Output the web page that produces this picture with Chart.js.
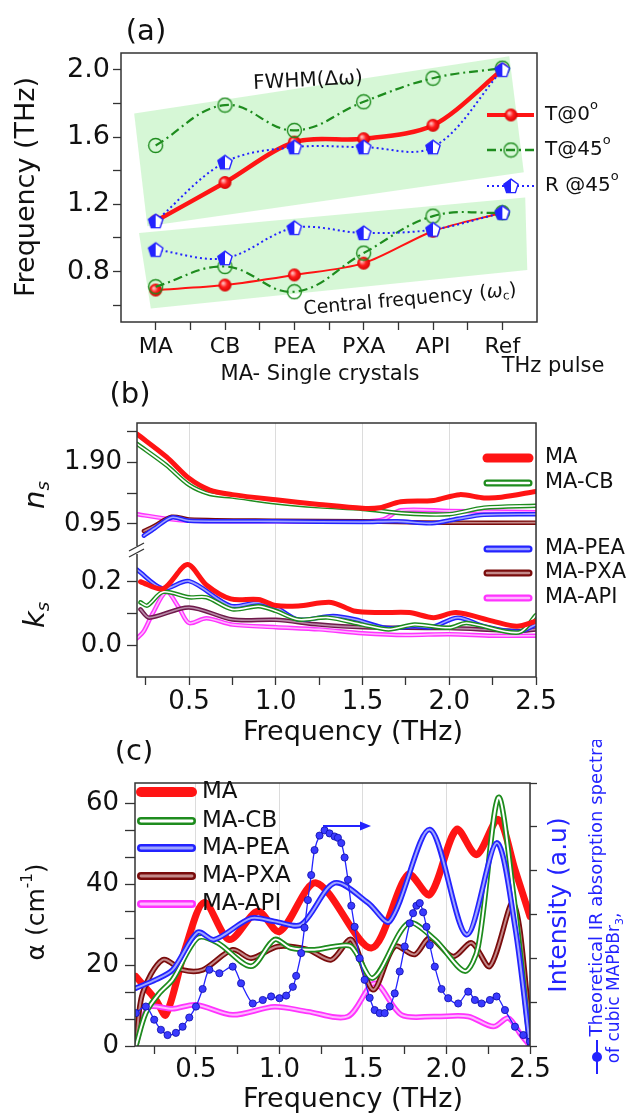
<!DOCTYPE html>
<html>
<head>
<title></title>
<script src="https://cdn.jsdelivr.net/npm/chart.js"></script>
<style>
  body { margin: 0; background: #fff; }
  .page { position: relative; width: 635px; height: 1115px; overflow: hidden; }
  .page canvas { position: absolute; left: 0; }
</style>
</head>
<body>
<div class="page">
  <canvas id="chartA" width="635" height="390" style="top:0px"></canvas>
  <canvas id="chartB" width="635" height="370" style="top:380px"></canvas>
  <canvas id="chartC" width="635" height="375" style="top:740px"></canvas>
</div>
<script>
// ---------- (a) FWHM / central frequency per sample ----------
const samples = ['MA', 'CB', 'PEA', 'PXA', 'API', 'Ref'];
const fwhmT0  = [1.10, 1.33, 1.57, 1.59, 1.67, 2.00];
const fwhmT45 = [1.55, 1.79, 1.64, 1.81, 1.95, 2.01];
const fwhmR45 = [1.10, 1.45, 1.54, 1.54, 1.54, 2.00];
const centT0  = [0.69, 0.72, 0.78, 0.85, 1.04, 1.15];
const centT45 = [0.71, 0.83, 0.68, 0.91, 1.13, 1.15];
const centR45 = [0.93, 0.88, 1.06, 1.03, 1.05, 1.15];
// green shaded bands, corners as [sample index, THz]
const bandFwhm = [[-0.31, 1.74], [5.10, 2.08], [5.31, 1.39], [-0.12, 1.07]];
const bandCent = [[-0.24, 1.03], [5.33, 1.24], [5.36, 0.81], [-0.07, 0.58]];
const aXTicks = [0, 0.5, 1, 1.5, 2, 2.5, 3, 3.5, 4, 4.5, 5];
const aYTicks = [0.6, 0.8, 1.0, 1.2, 1.4, 1.6, 1.8, 2.0];
const aYLabels = ['', '0.8', '', '1.2', '', '1.6', '', '2.0'];

// ---------- (b) n_s and k_s ----------
const nMaF = [0.20, 0.37, 0.50, 0.62, 0.75, 1.00, 1.25, 1.50, 1.60, 1.72, 1.91, 2.06, 2.20, 2.30, 2.50];
const nMa  = [2.33, 1.98, 1.65, 1.47, 1.40, 1.32, 1.25, 1.19, 1.20, 1.29, 1.31, 1.40, 1.35, 1.36, 1.45];
const nCbF = [0.20, 0.37, 0.50, 0.62, 0.75, 1.00, 1.25, 1.50, 1.75, 2.00, 2.20, 2.50];
const nCb  = [2.18, 1.85, 1.55, 1.41, 1.37, 1.28, 1.22, 1.18, 1.11, 1.10, 1.20, 1.23];
const nPeaF = [0.24, 0.30, 0.40, 0.50, 1.00, 1.50, 1.70, 1.90, 2.05, 2.20, 2.50];
const nPea  = [0.77, 0.88, 1.05, 1.00, 0.99, 0.98, 0.99, 0.96, 1.03, 1.09, 1.10];
const nPxaF = [0.24, 0.30, 0.40, 0.50, 1.00, 1.50, 1.70, 2.00, 2.50];
const nPxa  = [0.84, 0.92, 1.06, 1.02, 1.00, 0.99, 0.98, 0.97, 0.97];
const nApiF = [0.20, 0.40, 0.50, 1.00, 1.50, 1.62, 1.72, 2.00, 2.50];
const nApi  = [1.10, 1.02, 1.00, 0.99, 0.99, 1.02, 1.16, 1.15, 1.13];

const kMaF = [0.22, 0.35, 0.49, 0.60, 0.74, 0.90, 1.00, 1.13, 1.32, 1.45, 1.60, 1.77, 1.91, 2.04, 2.25, 2.39, 2.50];
const kMa  = [0.200, 0.178, 0.254, 0.190, 0.146, 0.144, 0.125, 0.124, 0.135, 0.108, 0.103, 0.103, 0.087, 0.103, 0.076, 0.060, 0.076];
const kCbF = [0.22, 0.26, 0.35, 0.50, 0.60, 0.75, 0.90, 1.00, 1.13, 1.30, 1.50, 1.65, 1.80, 2.00, 2.10, 2.40, 2.50];
const kCb  = [0.135, 0.125, 0.168, 0.151, 0.151, 0.113, 0.123, 0.108, 0.081, 0.087, 0.065, 0.050, 0.065, 0.055, 0.070, 0.040, 0.095];
const kPeaF = [0.20, 0.35, 0.50, 0.74, 0.90, 1.00, 1.13, 1.33, 1.46, 1.64, 1.80, 1.90, 2.05, 2.20, 2.40, 2.50];
const kPea  = [0.238, 0.178, 0.202, 0.124, 0.135, 0.120, 0.081, 0.092, 0.081, 0.054, 0.060, 0.057, 0.087, 0.060, 0.043, 0.065];
const kPxaF = [0.22, 0.27, 0.50, 0.75, 1.00, 1.25, 1.50, 2.00, 2.40, 2.50];
const kPxa  = [0.113, 0.087, 0.119, 0.081, 0.080, 0.065, 0.057, 0.054, 0.045, 0.050];
const kApiF = [0.20, 0.24, 0.29, 0.37, 0.44, 0.50, 0.60, 0.75, 1.00, 1.25, 1.50, 1.75, 2.00, 2.25, 2.50];
const kApi  = [0.022, 0.045, 0.100, 0.168, 0.120, 0.070, 0.085, 0.065, 0.057, 0.050, 0.038, 0.032, 0.035, 0.030, 0.030];

const fTicks  = [0.25, 0.5, 0.75, 1.0, 1.25, 1.5, 1.75, 2.0, 2.25, 2.5];
const fLabels = ['', '0.5', '', '1.0', '', '1.5', '', '2.0', '', '2.5'];
const nTicks  = [0.95, 1.425, 1.90, 2.375];
const nLabels = ['0.95', '', '1.90', ''];
const kTicks  = [0.0, 0.1, 0.2];
const kLabels = ['0.0', '', '0.2'];

// ---------- (c) absorption coefficient ----------
const aMaF = [0.14, 0.26, 0.32, 0.44, 0.55, 0.70, 0.87, 1.00, 1.22, 1.55, 1.77, 1.90, 2.06, 2.18, 2.31, 2.41, 2.50];
const aMa  = [17.2, 11.4, 7.7, 24.6, 35.5, 26.3, 33.3, 28.3, 40.3, 24.2, 42.4, 37.4, 53.5, 47.3, 56.0, 43.6, 32.0];
const aCbF = [0.14, 0.20, 0.28, 0.36, 0.51, 0.63, 0.83, 0.97, 1.07, 1.21, 1.33, 1.43, 1.56, 1.77, 1.93, 2.11, 2.19, 2.31, 2.40, 2.50];
const aCb  = [0, 8.2, 13.0, 16.4, 26.7, 25.5, 19.7, 26.3, 24.2, 23.8, 24.6, 24.6, 16.8, 30.4, 26.3, 18.5, 24.6, 61.4, 37.8, 0];
const aPeaF = [0.14, 0.26, 0.36, 0.51, 0.61, 0.83, 0.97, 1.13, 1.33, 1.53, 1.66, 1.90, 2.12, 2.30, 2.41, 2.50];
const aPea  = [14.3, 16.4, 18.8, 28.1, 26.3, 31.6, 30.8, 30.0, 40.3, 35.4, 30.8, 53.5, 27.5, 50.2, 29.6, 0];
const aPxaF = [0.14, 0.18, 0.30, 0.42, 0.54, 0.72, 0.83, 0.99, 1.17, 1.31, 1.43, 1.56, 1.69, 1.81, 1.90, 2.04, 2.15, 2.26, 2.40, 2.50];
const aPxa  = [0, 13.0, 21.3, 18.8, 18.8, 23.8, 21.7, 24.6, 23.8, 21.3, 26.3, 13.9, 24.6, 22.6, 26.7, 22.1, 25.5, 19.7, 35.4, 5.7];
const aApiF = [0.14, 0.18, 0.22, 0.36, 0.50, 0.72, 0.97, 1.17, 1.41, 1.57, 1.73, 1.93, 2.13, 2.28, 2.37, 2.44, 2.50];
const aApi  = [0, 6.4, 9.7, 9.2, 10.2, 7.7, 9.7, 8.5, 7.3, 15.5, 7.7, 7.3, 7.3, 4.8, 6.9, 3.1, 0];
// theoretical IR absorption (right axis, a.u.)
const theoF = [0.14, 0.20, 0.25, 0.29, 0.33, 0.38, 0.42, 0.46, 0.50, 0.54, 0.58, 0.64, 0.72, 0.77, 0.84, 0.90, 0.95, 1.00, 1.04, 1.08,
               1.10, 1.13, 1.15, 1.17, 1.19, 1.21, 1.24, 1.27, 1.30, 1.33, 1.35, 1.37, 1.39, 1.41, 1.43, 1.45, 1.48, 1.51, 1.54, 1.57,
               1.60, 1.63, 1.66, 1.69, 1.72, 1.75, 1.78, 1.80, 1.82, 1.84, 1.86, 1.88, 1.90, 1.93, 1.97, 2.01, 2.07, 2.13, 2.17, 2.21,
               2.26, 2.30, 2.35, 2.41, 2.46, 2.50];
const theoI = [0.75, 0.90, 0.60, 0.37, 0.25, 0.30, 0.44, 0.65, 0.90, 1.30, 1.74, 1.66, 1.81, 1.43, 0.97, 1.05, 1.13, 1.09, 1.15, 1.35,
               1.60, 2.12, 2.70, 3.33, 3.90, 4.47, 4.80, 4.92, 4.85, 4.78, 4.75, 4.63, 4.30, 3.79, 3.20, 2.72, 2.00, 1.51, 1.10, 0.82,
               0.75, 0.75, 0.90, 1.20, 1.70, 2.27, 2.80, 3.03, 3.20, 3.26, 3.05, 2.72, 2.30, 1.81, 1.30, 1.09, 0.97, 1.24, 1.05, 0.97,
               1.05, 1.13, 0.82, 0.44, 0.25, 0.10];
const alphaTicks  = [0, 6.67, 13.33, 20, 26.67, 33.33, 40, 46.67, 53.33, 60];
const alphaLabels = ['0', '', '', '20', '', '', '40', '', '', '60'];
const intTicks = [0, 1, 2, 3, 4, 5, 6];

// ---------- styling ----------
const F = "'DejaVu Sans', sans-serif";
const INK = '#111';
const AXIS = '#333';
const GRID = '#dcdcdc';
const RED = '#ff1414', GREEN = '#1e8c1e', BLUE = '#2323ff';
const BROWN = '#7a0c0c', PINK = '#ff33ff';
const BAND = 'rgba(200, 244, 200, 0.75)';
Chart.defaults.font.family = F;
Chart.defaults.color = INK;

function xy(fs, vs) { return fs.map((f, i) => ({x: f, y: vs[i]})); }
function byIndex(vs) { return vs.map((v, i) => ({x: i, y: v})); }
function poly(c) { const p = c.map(q => ({x: q[0], y: q[1]})); p.push(p[0]); return p; }

function mark(size, draw) {
  const c = document.createElement('canvas');
  c.width = c.height = size;
  draw(c.getContext('2d'), size / 2);
  return c;
}
const dotRed = mark(15, (g, m) => {
  const gr = g.createRadialGradient(m - 2, m - 2, 0.5, m, m, 7);
  gr.addColorStop(0, '#ffc0c0'); gr.addColorStop(0.45, '#ff1c1c'); gr.addColorStop(1, '#d00000');
  g.fillStyle = gr; g.beginPath(); g.arc(m, m, 6.5, 0, 7); g.fill();
});
const ringGreen = mark(17, (g, m) => {
  g.strokeStyle = GREEN; g.lineWidth = 1.4; g.beginPath(); g.arc(m, m, 7, 0, 7); g.stroke();
});
const pentBlue = mark(18, (g, m) => {
  g.beginPath();
  for (let i = 0; i < 5; i++) {
    const a = -Math.PI / 2 + i * 2 * Math.PI / 5;
    g.lineTo(m + 7.5 * Math.cos(a), m + 0.6 + 7.5 * Math.sin(a));
  }
  g.closePath();
  g.fillStyle = '#fff'; g.fill();
  g.save(); g.clip(); g.fillStyle = BLUE; g.fillRect(0, 0, m, 18); g.restore();
  g.strokeStyle = BLUE; g.lineWidth = 1.4; g.stroke();
});

// thick "tube" line: outer stroke plus a lighter core drawn on top
function tube(data, outer, inner, w, axis, order) {
  const base = {data, yAxisID: axis, pointRadius: 0, tension: 0.3,
                borderCapStyle: 'round', borderJoinStyle: 'round', fill: false};
  const list = [Object.assign({}, base, {borderColor: outer, borderWidth: w, order: order + 0.5})];
  if (inner) list.push(Object.assign({}, base, {borderColor: inner, borderWidth: w * 0.36, order: order}));
  return list;
}

// text with optional sub/superscripts, centred at (x, y)
function rich(ctx, parts, x, y, rot, color) {
  ctx.save();
  ctx.translate(x, y);
  ctx.rotate(rot || 0);
  ctx.textBaseline = 'middle';
  ctx.textAlign = 'left';
  let w = 0;
  for (const p of parts) {
    ctx.font = (p.it ? 'italic ' : '') + p.s + 'px ' + F;
    p.w = ctx.measureText(p.t).width; w += p.w;
  }
  let cx = -w / 2;
  for (const p of parts) {
    ctx.font = (p.it ? 'italic ' : '') + p.s + 'px ' + F;
    ctx.fillStyle = color || INK;
    ctx.fillText(p.t, cx, p.dy || 0);
    cx += p.w;
  }
  ctx.restore();
}
function leftText(ctx, parts, x, y) {
  ctx.save();
  ctx.textBaseline = 'middle';
  let cx = x;
  for (const p of parts) {
    ctx.font = p.s + 'px ' + F;
    ctx.fillStyle = INK;
    ctx.fillText(p.t, cx, y + (p.dy || 0));
    cx += ctx.measureText(p.t).width;
  }
  ctx.restore();
}
function legendTube(ctx, x1, x2, y, outer, inner, w) {
  ctx.save();
  ctx.lineCap = 'round';
  ctx.strokeStyle = outer; ctx.lineWidth = w;
  ctx.beginPath(); ctx.moveTo(x1, y); ctx.lineTo(x2, y); ctx.stroke();
  if (inner) {
    ctx.strokeStyle = inner; ctx.lineWidth = w * 0.36;
    ctx.beginPath(); ctx.moveTo(x1, y); ctx.lineTo(x2, y); ctx.stroke();
  }
  ctx.restore();
}

const frame = {
  id: 'frame',
  afterDatasetsDraw(chart) {
    const a = chart.chartArea, c = chart.ctx;
    c.save();
    c.strokeStyle = AXIS; c.lineWidth = 1.5;
    c.strokeRect(a.left, a.top, a.right - a.left, a.bottom - a.top);
    c.restore();
  }
};

function tickFont(size) { return {family: F, size: size, lineHeight: 1}; }
const noBorder = {display: false};
const baseOpts = {responsive: false, animation: false, events: [],
                  plugins: {legend: {display: false}, tooltip: {enabled: false}}};

// ================= chart (a) =================
new Chart(document.getElementById('chartA'), {
  type: 'line',
  data: {
    datasets: [
      {data: byIndex(fwhmR45), borderColor: BLUE, borderWidth: 2, borderDash: [2, 3], pointStyle: pentBlue, pointRadius: 7, tension: 0.35, fill: false, order: 0},
      {data: byIndex(centR45), borderColor: BLUE, borderWidth: 2, borderDash: [2, 3], pointStyle: pentBlue, pointRadius: 7, tension: 0.35, fill: false, order: 0},
      {data: byIndex(fwhmT45), borderColor: GREEN, borderWidth: 2.2, borderDash: [9, 4, 2, 4], pointStyle: ringGreen, pointRadius: 7, tension: 0.4, fill: false, order: 1},
      {data: byIndex(centT45), borderColor: GREEN, borderWidth: 2.2, borderDash: [9, 4, 2, 4], pointStyle: ringGreen, pointRadius: 7, tension: 0.4, fill: false, order: 1},
      {data: byIndex(fwhmT0), borderColor: RED, borderWidth: 4.5, pointStyle: dotRed, pointRadius: 7, tension: 0.3, fill: false, order: 2},
      {data: byIndex(centT0), borderColor: RED, borderWidth: 2, pointStyle: dotRed, pointRadius: 7, tension: 0.3, fill: false, order: 2},
      {data: poly(bandFwhm), fill: 'shape', backgroundColor: BAND, borderColor: 'rgba(0,0,0,0)', borderWidth: 0, pointRadius: 0, tension: 0, order: 20},
      {data: poly(bandCent), fill: 'shape', backgroundColor: BAND, borderColor: 'rgba(0,0,0,0)', borderWidth: 0, pointRadius: 0, tension: 0, order: 20}
    ]
  },
  options: Object.assign({}, baseOpts, {
    layout: {padding: {top: 53, right: 98, left: 0, bottom: 0}},
    scales: {
      x: {
        type: 'linear', min: -0.5, max: 5.5,
        afterFit: s => { s.height = 68; },
        afterBuildTicks: s => { s.ticks = aXTicks.map(v => ({value: v})); },
        ticks: {callback: (v, i) => Number.isInteger(aXTicks[i]) ? samples[aXTicks[i]] : '',
                autoSkip: false, maxRotation: 0, font: tickFont(22), padding: 6},
        grid: {drawOnChartArea: false, tickLength: 8, tickColor: AXIS, tickWidth: 1.3},
        border: noBorder
      },
      y: {
        type: 'linear', min: 0.5, max: 2.1,
        afterFit: s => { s.width = 121; },
        afterBuildTicks: s => { s.ticks = aYTicks.map(v => ({value: v})); },
        ticks: {callback: (v, i) => aYLabels[i], autoSkip: false, font: tickFont(27), padding: 3},
        grid: {drawOnChartArea: false, tickLength: 8, tickColor: AXIS, tickWidth: 1.3},
        border: noBorder
      }
    }
  }),
  plugins: [frame, {
    id: 'extrasA',
    afterDraw(chart) {
      const ctx = chart.ctx;
      rich(ctx, [{t: '(a)', s: 29}], 146, 32);
      rich(ctx, [{t: 'Frequency (THz)', s: 27}], 27, 187, -Math.PI / 2);
      rich(ctx, [{t: 'MA- Single crystals', s: 21}], 320, 375);
      rich(ctx, [{t: 'THz pulse', s: 21}], 553, 367);
      rich(ctx, [{t: 'FWHM(Δω)', s: 20}], 308, 81, -0.05);
      rich(ctx, [{t: 'Central frequency (', s: 19}, {t: 'ω', s: 19, it: true}, {t: 'c', s: 12, dy: 5}, {t: ')', s: 19}], 410, 300, -0.09);
      const rows = [
        [115, RED, 4, [], dotRed, 'T@0'],
        [150, GREEN, 2.5, [9, 4, 2, 4], ringGreen, 'T@45'],
        [186, BLUE, 2.2, [2, 3], pentBlue, 'R @45']
      ];
      for (const r of rows) {
        ctx.save();
        ctx.strokeStyle = r[1]; ctx.lineWidth = r[2]; ctx.setLineDash(r[3]);
        ctx.beginPath(); ctx.moveTo(487, r[0]); ctx.lineTo(534, r[0]); ctx.stroke();
        ctx.restore();
        ctx.drawImage(r[4], 511 - r[4].width / 2, r[0] - r[4].height / 2);
        leftText(ctx, [{t: r[5], s: 20}, {t: 'o', s: 13, dy: -9}], 545, r[0]);
      }
    }
  }]
});

// ================= chart (b) =================
new Chart(document.getElementById('chartB'), {
  type: 'line',
  data: {
    datasets: [
      ...tube(xy(nMaF, nMa), RED, null, 5, 'yn', 0),
      ...tube(xy(nCbF, nCb), GREEN, '#ffffff', 4.5, 'yn', 2),
      ...tube(xy(nPeaF, nPea), BLUE, '#9ea4ff', 4.5, 'yn', 4),
      ...tube(xy(nPxaF, nPxa), BROWN, '#c48a8a', 4.5, 'yn', 6),
      ...tube(xy(nApiF, nApi), PINK, '#ffb8ff', 4.5, 'yn', 8),
      ...tube(xy(kMaF, kMa), RED, null, 5, 'yk', 0),
      ...tube(xy(kCbF, kCb), GREEN, '#ffffff', 4.5, 'yk', 2),
      ...tube(xy(kPeaF, kPea), BLUE, '#9ea4ff', 4.5, 'yk', 4),
      ...tube(xy(kPxaF, kPxa), '#6e1a4a', '#b88aa8', 4.5, 'yk', 6),
      ...tube(xy(kApiF, kApi), PINK, '#ffb8ff', 4.5, 'yk', 8)
    ]
  },
  options: Object.assign({}, baseOpts, {
    layout: {padding: {top: 43, right: 99, left: 0, bottom: 0}},
    scales: {
      x: {
        type: 'linear', min: 0.2, max: 2.5,
        afterFit: s => { s.height = 73; },
        afterBuildTicks: s => { s.ticks = fTicks.map(v => ({value: v})); },
        ticks: {callback: (v, i) => fLabels[i], autoSkip: false, maxRotation: 0, font: tickFont(26), padding: 4},
        grid: {color: c => fLabels[c.index] ? GRID : 'rgba(0,0,0,0)', tickColor: AXIS, tickLength: 8, tickWidth: 1.3},
        border: noBorder
      },
      yk: {
        type: 'linear', min: -0.1, max: 0.3, position: 'left', stack: 'b', stackWeight: 1,
        afterFit: s => { s.width = 137; },
        afterBuildTicks: s => { s.ticks = kTicks.map(v => ({value: v})); },
        ticks: {callback: (v, i) => kLabels[i], autoSkip: false, font: tickFont(26), padding: 5},
        grid: {drawOnChartArea: false, tickLength: 10, tickColor: AXIS, tickWidth: 1.3},
        border: noBorder
      },
      yn: {
        type: 'linear', min: 0.55, max: 2.5, position: 'left', stack: 'b', stackWeight: 1,
        afterFit: s => { s.width = 137; },
        afterBuildTicks: s => { s.ticks = nTicks.map(v => ({value: v})); },
        ticks: {callback: (v, i) => nLabels[i], autoSkip: false, font: tickFont(26), padding: 5},
        grid: {drawOnChartArea: false, tickLength: 10, tickColor: AXIS, tickWidth: 1.3},
        border: noBorder
      }
    }
  }),
  plugins: [frame, {
    id: 'extrasB',
    afterDraw(chart) {
      const ctx = chart.ctx;
      const xl = chart.chartArea.left;
      const yj = chart.scales.yk.top;
      // axis break
      ctx.save();
      ctx.fillStyle = '#fff'; ctx.fillRect(xl - 3, yj - 4, 6, 8);
      ctx.strokeStyle = AXIS; ctx.lineWidth = 1.4;
      for (const d of [-3, 3]) {
        ctx.beginPath(); ctx.moveTo(xl - 8, yj + d + 4); ctx.lineTo(xl + 7, yj + d - 4); ctx.stroke();
      }
      ctx.restore();
      rich(ctx, [{t: '(b)', s: 29}], 130, 15);
      rich(ctx, [{t: 'n', s: 29, it: true}, {t: 's', s: 18, it: true, dy: 8}], 36, 115, -Math.PI / 2);
      rich(ctx, [{t: 'k', s: 29, it: true}, {t: 's', s: 18, it: true, dy: 8}], 36, 235, -Math.PI / 2);
      rich(ctx, [{t: 'Frequency (THz)', s: 27}], 353, 353);
      const rows = [
        [78, RED, null, 'MA'], [103, GREEN, '#ffffff', 'MA-CB'],
        [169, BLUE, '#9ea4ff', 'MA-PEA'], [193, BROWN, '#c48a8a', 'MA-PXA'], [218, PINK, '#ffb8ff', 'MA-API']
      ];
      for (const r of rows) {
        legendTube(ctx, 487, 529, r[0], r[1], r[2], r[2] ? 7 : 9);
        leftText(ctx, [{t: r[3], s: 21}], 545, r[0]);
      }
    }
  }]
});

// ================= chart (c) =================
new Chart(document.getElementById('chartC'), {
  type: 'line',
  data: {
    datasets: [
      {data: xy(theoF, theoI), yAxisID: 'y2', borderColor: BLUE, borderWidth: 1.3, tension: 0.3,
       pointRadius: 3.6, pointBackgroundColor: '#3a3aff', pointBorderColor: '#0c0ca8', pointBorderWidth: 0.8, fill: false, order: 0},
      ...tube(xy(aPeaF, aPea), BLUE, '#9ea4ff', 5.5, 'y', 2),
      ...tube(xy(aCbF, aCb), GREEN, '#ffffff', 5.5, 'y', 4),
      ...tube(xy(aPxaF, aPxa), BROWN, '#c48a8a', 5.5, 'y', 6),
      ...tube(xy(aApiF, aApi), PINK, '#ffb8ff', 5.5, 'y', 8),
      ...tube(xy(aMaF, aMa), RED, null, 7, 'y', 10)
    ]
  },
  options: Object.assign({}, baseOpts, {
    layout: {padding: {top: 43, right: 85, left: 0, bottom: 0}},
    scales: {
      x: {
        type: 'linear', min: 0.135, max: 2.5,
        afterFit: s => { s.height = 69; },
        afterBuildTicks: s => { s.ticks = fTicks.map(v => ({value: v})); },
        ticks: {callback: (v, i) => fLabels[i], autoSkip: false, maxRotation: 0, font: tickFont(26), padding: 3},
        grid: {color: c => fLabels[c.index] ? GRID : 'rgba(0,0,0,0)', tickColor: AXIS, tickLength: 8, tickWidth: 1.3},
        border: noBorder
      },
      y: {
        type: 'linear', min: 0, max: 65, position: 'left',
        afterFit: s => { s.width = 135; },
        afterBuildTicks: s => { s.ticks = alphaTicks.map(v => ({value: v})); },
        ticks: {callback: (v, i) => alphaLabels[i], autoSkip: false, font: tickFont(26), padding: 6},
        grid: {drawOnChartArea: false, tickLength: 10, tickColor: AXIS, tickWidth: 1.3},
        border: noBorder
      },
      y2: {
        type: 'linear', min: 0, max: 6, position: 'right',
        afterFit: s => { s.width = 20; },
        afterBuildTicks: s => { s.ticks = intTicks.map(v => ({value: v})); },
        ticks: {callback: () => '', autoSkip: false},
        grid: {drawOnChartArea: false, tickLength: 7, tickColor: AXIS, tickWidth: 1.3},
        border: noBorder
      }
    }
  }),
  plugins: [frame, {
    id: 'extrasC',
    afterDraw(chart) {
      const ctx = chart.ctx;
      rich(ctx, [{t: '(c)', s: 29}], 134, 12);
      rich(ctx, [{t: 'α (cm', s: 25}, {t: '-1', s: 15, dy: -9}, {t: ')', s: 25}], 37, 172, -Math.PI / 2);
      rich(ctx, [{t: 'Frequency (THz)', s: 27}], 353, 360);
      rich(ctx, [{t: 'Intensity (a.u)', s: 25}], 559, 165, -Math.PI / 2, BLUE);
      rich(ctx, [{t: 'Theoretical IR absorption spectra', s: 18}], 597, 147, -Math.PI / 2, BLUE);
      rich(ctx, [{t: 'of cubic MAPbBr', s: 17}, {t: '3', s: 11, dy: 5}, {t: ',', s: 17}], 615, 248, -Math.PI / 2, BLUE);
      // theory legend symbol
      ctx.save();
      ctx.strokeStyle = BLUE; ctx.lineWidth = 2;
      ctx.beginPath(); ctx.moveTo(597, 300); ctx.lineTo(597, 334); ctx.stroke();
      ctx.fillStyle = BLUE; ctx.beginPath(); ctx.arc(597, 317, 5, 0, 7); ctx.fill();
      // arrow pointing to the right axis
      ctx.beginPath(); ctx.moveTo(323, 86); ctx.lineTo(362, 86); ctx.stroke();
      ctx.beginPath(); ctx.moveTo(371, 86); ctx.lineTo(360, 81.5); ctx.lineTo(360, 90.5); ctx.closePath(); ctx.fill();
      ctx.restore();
      const rows = [
        [52, RED, null, 'MA'], [81, GREEN, '#ffffff', 'MA-CB'], [108, BLUE, '#9ea4ff', 'MA-PEA'],
        [136, BROWN, '#c48a8a', 'MA-PXA'], [164, PINK, '#ffb8ff', 'MA-API']
      ];
      for (const r of rows) {
        legendTube(ctx, 141, 192, r[0], r[1], r[2], r[2] ? 8 : 10);
        leftText(ctx, [{t: r[3], s: 23}], 202, r[0]);
      }
    }
  }]
});
</script>
</body>
</html>
